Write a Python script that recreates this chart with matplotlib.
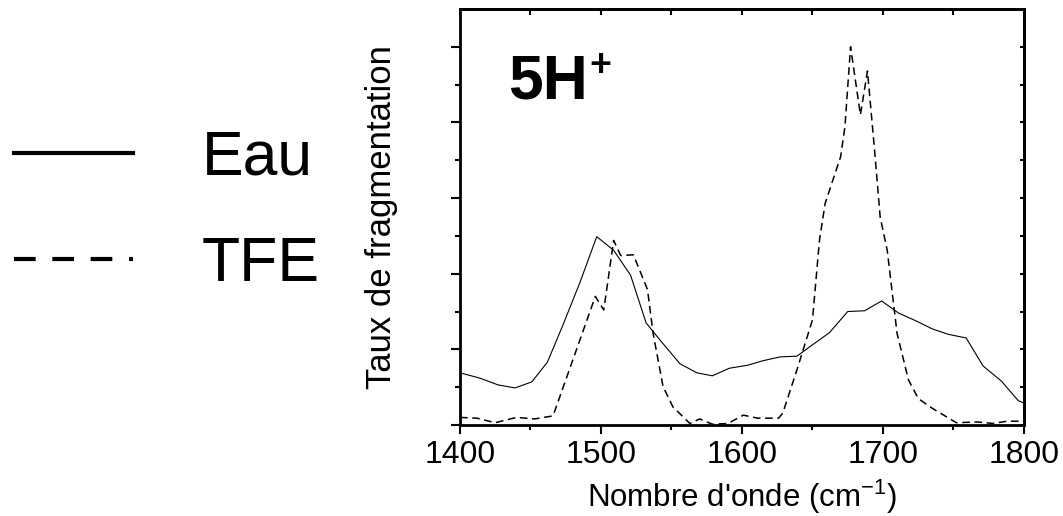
import matplotlib
matplotlib.use("Agg")
import matplotlib.pyplot as plt
from matplotlib.lines import Line2D

plt.rcParams['font.family'] = ['Liberation Sans', 'DejaVu Sans']
plt.rcParams['mathtext.fontset'] = 'custom'
plt.rcParams['mathtext.rm'] = 'Liberation Sans'
plt.rcParams['mathtext.bf'] = 'Liberation Sans:bold'

# Eau (solid)
eau_x = [1400, 1414, 1427, 1439, 1451, 1462, 1473, 1485, 1497, 1509, 1521, 1532,
         1542, 1556, 1568, 1579, 1591, 1604, 1615, 1627, 1639, 1650, 1662, 1675,
         1687, 1699, 1711, 1723, 1735, 1746, 1759, 1771, 1784, 1796, 1800]
eau_y = [0.69, 0.62, 0.53, 0.49, 0.57, 0.83, 1.32, 1.88, 2.49, 2.31, 1.98, 1.35,
         1.12, 0.81, 0.69, 0.65, 0.75, 0.79, 0.85, 0.90, 0.91, 1.06, 1.22, 1.50,
         1.51, 1.64, 1.48, 1.38, 1.27, 1.20, 1.15, 0.78, 0.58, 0.32, 0.29]

# TFE (dashed)
tfe_x = [1400, 1412, 1425, 1440, 1453, 1466, 1496, 1502, 1509, 1514, 1523, 1533,
         1537, 1544, 1551, 1563, 1570, 1579, 1590, 1601, 1611, 1626, 1629, 1639,
         1650, 1655, 1659, 1670, 1673, 1677, 1684, 1689, 1694, 1698, 1703, 1710,
         1718, 1725, 1735, 1752, 1767, 1778, 1788, 1800]
tfe_y = [0.10, 0.09, 0.03, 0.10, 0.08, 0.12, 1.70, 1.52, 2.44, 2.24, 2.25, 1.79,
         1.21, 0.51, 0.24, 0.02, 0.08, 0.01, 0.02, 0.13, 0.09, 0.09, 0.16, 0.73,
         1.39, 2.45, 2.93, 3.55, 3.94, 5.00, 4.10, 4.68, 3.64, 2.75, 2.31, 1.21,
         0.60, 0.35, 0.22, 0.03, 0.04, 0.02, 0.05, 0.05]

x_ticks = [1400, 1500, 1600, 1700, 1800]
x_minor = [1450, 1550, 1650, 1750]
y_major = [0, 1, 2, 3, 4, 5]
y_minor = [0.5, 1.5, 2.5, 3.5, 4.5]
all_x = sorted(x_ticks + x_minor)
all_y = sorted(y_major + y_minor)

fig = plt.figure(figsize=(10.63, 5.16), dpi=100)
ax = fig.add_axes([0.4327, 0.1764, 0.9633 - 0.4327, 0.9826 - 0.1764])

ax.plot(eau_x, eau_y, color='black', linewidth=0.8)
ax.plot(tfe_x, tfe_y, color='black', linewidth=1.1, linestyle=(0, (5, 3)))

ax.set_xlim(1400, 1800)
ax.set_ylim(0, 5.5)

for s in ax.spines.values():
    s.set_linewidth(2)

ax.set_xticks(x_ticks)
ax.set_xticks(x_minor, minor=True)
ax.set_yticks(y_major)
ax.set_yticks(y_minor, minor=True)
ax.set_yticklabels([])
ax.tick_params(axis='both', which='major', direction='out', length=6.5, width=1.5,
               labelsize=23, pad=4)
ax.tick_params(axis='both', which='minor', direction='out', length=3.5, width=1.5)

top = ax.secondary_xaxis('top')
top.set_xticks(all_x)
top.set_xticklabels([])
top.tick_params(direction='in', length=4.5, width=1.5)
top.spines['top'].set_linewidth(2)

right = ax.secondary_yaxis('right')
right.set_yticks(all_y)
right.set_yticklabels([])
right.tick_params(direction='in', length=3, width=1.5)
right.spines['right'].set_linewidth(2)

ax.set_xlabel(r"Nombre d'onde (cm$^{\mathrm{-1}}$)", fontsize=22.5, labelpad=6)
ax.set_ylabel("Taux de fragmentation", fontsize=25, labelpad=34)

# sample label "5H+"
ax.text(0.085, 0.786, '5H', transform=ax.transAxes, fontsize=45,
        fontweight='bold', ha='left', va='baseline')
ax.text(0.229, 0.862, '+', transform=ax.transAxes, fontsize=27,
        fontweight='bold', ha='left', va='center')

handles = [Line2D([], [], color='black', linewidth=3),
           Line2D([], [], color='black', linewidth=3, linestyle=(0, (5.2, 4)))]
fig.legend(handles, ['Eau', 'TFE'], loc='upper left', bbox_to_anchor=(-0.028, 0.835),
           frameon=False, fontsize=45, handlelength=1.9, handletextpad=1.1,
           labelspacing=0.75, borderaxespad=0.3)

fig.savefig('out.png', dpi=100)
